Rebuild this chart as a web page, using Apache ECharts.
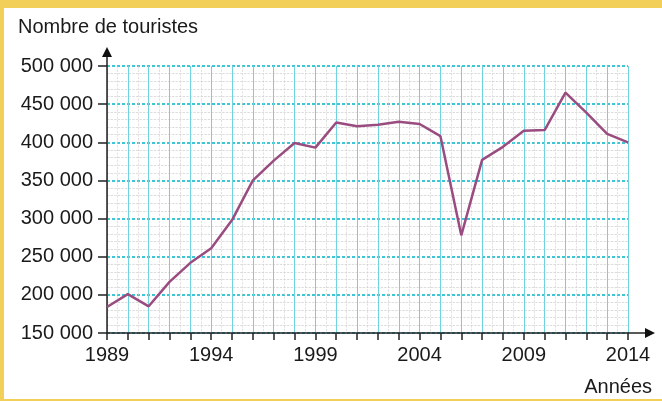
<!DOCTYPE html>
<html><head><meta charset="utf-8">
<script src="https://cdn.jsdelivr.net/npm/echarts@6/dist/echarts.min.js"></script>
<style>html,body{margin:0;padding:0;background:#fff}#c{width:662px;height:401px}</style>
</head><body><div id="c"></div>
<script>
const years = [1989,1990,1991,1992,1993,1994,1995,1996,1997,1998,1999,2000,2001,2002,2003,2004,2005,2006,2007,2008,2009,2010,2011,2012,2013,2014];
const tourists = [184000,201000,185000,217000,242000,261000,298000,350000,376000,399000,393000,426000,421000,423000,427000,424000,408000,278000,377000,394000,415000,416000,465000,439000,411000,400000];
const yTicks = [150000,200000,250000,300000,350000,400000,450000,500000];
const xLabelYears = [1989,1994,1999,2004,2009,2014];
const yTitle = 'Nombre de touristes';
const xTitle = 'Années';

const chart = echarts.init(document.getElementById('c'));
const font = 'Liberation Sans, Arial, sans-serif';
const fmt = v => String(v).replace(/\B(?=(\d{3})+(?!\d))/g, ' ');
const option = {
  backgroundColor: '#fff',
  animation: false,
  grid: {left: 107, right: 34, top: 66, bottom: 68},
  xAxis: {
    type: 'value', min: years[0], max: years[years.length-1], interval: 1,
    axisLine: {lineStyle: {color: '#222', width: 1.5}},
    axisTick: {show: true, length: 7, inside: false, lineStyle: {color: '#222', width: 1.5}},
    axisLabel: {
      color: '#1a1a1a', fontSize: 20, fontFamily: font, margin: 12,
      formatter: v => xLabelYears.includes(v) ? String(v) : ''
    },
    splitLine: {show: true, lineStyle: {color: '#6fd3de', width: 1}},
    minorTick: {show: false, splitNumber: 2},
    minorSplitLine: {show: true, lineStyle: {color: '#cfcfcf', type: 'dashed', width: 0.6}}
  },
  yAxis: {
    type: 'value', min: yTicks[0], max: yTicks[yTicks.length-1], interval: 50000,
    axisLine: {show: true, lineStyle: {color: '#222', width: 1.5}},
    axisTick: {show: true, length: 9, lineStyle: {color: '#222', width: 1.5}},
    axisLabel: {color: '#1a1a1a', fontSize: 20, fontFamily: font, margin: 14, formatter: v => fmt(v)},
    splitLine: {show: true, lineStyle: {color: '#3fc6d4', width: 2, type: [3, 2]}},
    minorTick: {show: false, splitNumber: 5},
    minorSplitLine: {show: true, lineStyle: {color: '#c4c4c4', type: 'dashed', width: 0.6}}
  },
  series: [{
    type: 'line',
    data: years.map((y, i) => [y, tourists[i]]),
    symbol: 'none',
    lineStyle: {color: '#9a4c80', width: 2.5},
    z: 5
  }]
};
chart.setOption(option);

const o = chart.convertToPixel({gridIndex: 0}, [years[0], yTicks[0]]);
const xEnd = chart.convertToPixel({gridIndex: 0}, [years[years.length-1], yTicks[0]]);
const yEnd = chart.convertToPixel({gridIndex: 0}, [years[0], yTicks[yTicks.length-1]]);
const axisX2 = xEnd[0] + 27, axisY2 = yEnd[1] - 19;
chart.setOption({
  graphic: [
    {type: 'rect', shape: {x: 0, y: 0, width: 662, height: 8}, style: {fill: '#f2cf58'}, z: 0, silent: true},
    {type: 'rect', shape: {x: 0, y: 0, width: 4, height: 401}, style: {fill: '#f2cf58'}, z: 0, silent: true},
    {type: 'rect', shape: {x: 0, y: 399, width: 662, height: 2}, style: {fill: '#f2cf58'}, z: 0, silent: true},
    {type: 'line', shape: {x1: xEnd[0], y1: o[1], x2: axisX2 - 6, y2: o[1]}, style: {stroke: '#222', lineWidth: 1.5}, z: 10},
    {type: 'polygon', shape: {points: [[axisX2, o[1]], [axisX2 - 10, o[1] - 5], [axisX2 - 10, o[1] + 5]]}, style: {fill: '#111'}, z: 10},
    {type: 'line', shape: {x1: o[0], y1: yEnd[1], x2: o[0], y2: axisY2 + 6}, style: {stroke: '#222', lineWidth: 1.5}, z: 10},
    {type: 'polygon', shape: {points: [[o[0], axisY2], [o[0] - 5, axisY2 + 10], [o[0] + 5, axisY2 + 10]]}, style: {fill: '#111'}, z: 10},
    {type: 'text', x: 18, y: 27, style: {text: yTitle, fill: '#1a1a1a', font: '20px ' + font, textVerticalAlign: 'middle'}, z: 10},
    {type: 'text', x: 652, y: 387, style: {text: xTitle, fill: '#1a1a1a', font: '20px ' + font, textAlign: 'right', textVerticalAlign: 'middle'}, z: 10}
  ]
});
</script></body></html>
